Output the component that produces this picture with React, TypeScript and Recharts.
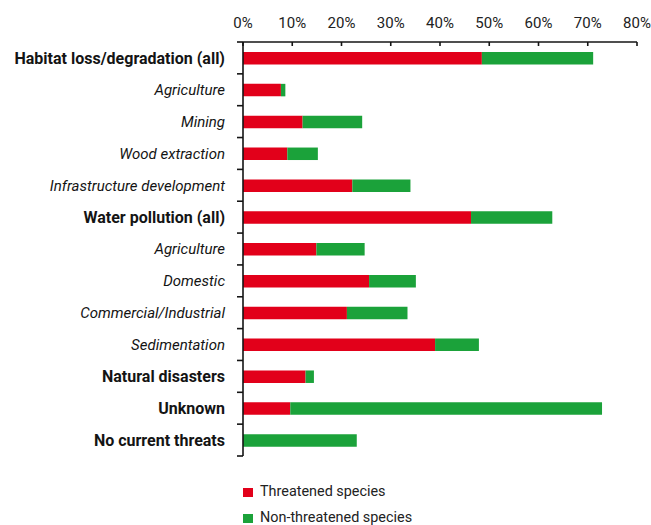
import React from 'react';
import { BarChart, Bar, XAxis, YAxis, Legend } from 'recharts';

const categories = [
  'Habitat loss/degradation (all)',
  'Agriculture',
  'Mining',
  'Wood extraction',
  'Infrastructure development',
  'Water pollution (all)',
  'Agriculture',
  'Domestic',
  'Commercial/Industrial',
  'Sedimentation',
  'Natural disasters',
  'Unknown',
  'No current threats',
];
const isHeading = [true, false, false, false, false, true, false, false, false, false, true, true, true];
const threatened = [48.5, 7.7, 12.1, 9.0, 22.2, 46.3, 14.9, 25.6, 21.1, 39.0, 12.7, 9.6, 0];
const nonThreatened = [22.6, 0.9, 12.1, 6.2, 11.8, 16.5, 9.8, 9.5, 12.3, 8.9, 1.7, 63.3, 23.1];
const xTicks = [0, 10, 20, 30, 40, 50, 60, 70, 80];
const seriesNames = ['Threatened species', 'Non-threatened species'];

const data = categories.map((name, i) => ({
  key: `c${i}`,
  name,
  threatened: threatened[i],
  nonThreatened: nonThreatened[i],
}));

const W = 651;
const H = 525;
const MARGIN = { top: 0, right: 14, bottom: 69, left: 0 };
const X_AXIS_H = 42;
const Y_AXIS_W = 243;
const PLOT_H = H - MARGIN.top - MARGIN.bottom - X_AXIS_H;
const BAND = PLOT_H / categories.length;

const RED = '#E2001A';
const GREEN = '#1BA23A';
const INK = '#141414';
const FONT = "Roboto, 'Noto Sans', sans-serif";

const YTick = (props: any) => {
  const { x, y, index } = props;
  const i = index as number;
  const half = BAND / 2;
  const bold = isHeading[i];
  return (
    <g>
      <line x1={x - 6} x2={x} y1={y - half} y2={y - half} stroke={INK} strokeWidth={1.6} />
      {i === categories.length - 1 && (
        <line x1={x - 6} x2={x} y1={y + half} y2={y + half} stroke={INK} strokeWidth={1.6} />
      )}
      <text
        x={x - 18}
        y={y}
        dy="0.355em"
        textAnchor="end"
        fontFamily={FONT}
        fontSize={bold ? 16 : 15}
        fontWeight={bold ? 700 : 400}
        fontStyle={bold ? 'normal' : 'italic'}
        fill={INK}
      >
        {categories[i]}
      </text>
    </g>
  );
};

const XTick = (props: any) => {
  const { x, y, payload } = props;
  return (
    <g>
      <line x1={x} x2={x} y1={y} y2={y + 4} stroke={INK} strokeWidth={1.6} />
      <text x={x} y={y - 13.7} textAnchor="middle" fontFamily={FONT} fontSize={15} fill="#222">
        {`${payload.value}%`}
      </text>
    </g>
  );
};

const renderLegend = (props: any) => {
  const payload = [...(props.payload || [])].sort(
    (a: any, b: any) => seriesNames.indexOf(a.value) - seriesNames.indexOf(b.value)
  );
  return (
    <div style={{ fontFamily: FONT, fontSize: 14.4, color: '#222' }}>
      {payload.map((entry: any, i: number) => (
        <div key={i} style={{ height: 26, display: 'flex', alignItems: 'center' }}>
          <span
            style={{
              display: 'inline-block',
              width: 10,
              height: 9.5,
              background: entry.color,
              marginTop: 3,
              marginRight: 7,
            }}
          />
          <span>{entry.value}</span>
        </div>
      ))}
    </div>
  );
};

export default function App() {
  return (
    <div style={{ position: 'absolute', left: 0, top: 0, width: W, height: H, background: '#fff' }}>
      <BarChart width={W} height={H} data={data} layout="vertical" margin={MARGIN}>
        <XAxis
          type="number"
          orientation="top"
          domain={[0, 80]}
          ticks={xTicks}
          height={X_AXIS_H}
          tickSize={0}
          tickMargin={0}
          tickLine={false}
          tick={XTick}
          axisLine={{ stroke: INK, strokeWidth: 1.6 }}
          interval={0}
        />
        <YAxis
          type="category"
          dataKey="key"
          width={Y_AXIS_W}
          tickSize={0}
          tickMargin={0}
          tickLine={false}
          tick={YTick}
          interval={0}
          axisLine={{ stroke: INK, strokeWidth: 1.6 }}
        />
        <Legend
          layout="vertical"
          verticalAlign="middle"
          align="center"
          content={renderLegend}
          wrapperStyle={{ left: 243, top: 478, width: 300, height: 52, bottom: 'auto', right: 'auto' }}
        />
        <Bar dataKey="threatened" name={seriesNames[0]} stackId="s" fill={RED} barSize={12.5} isAnimationActive={false} />
        <Bar dataKey="nonThreatened" name={seriesNames[1]} stackId="s" fill={GREEN} barSize={12.5} isAnimationActive={false} />
      </BarChart>
    </div>
  );
}
